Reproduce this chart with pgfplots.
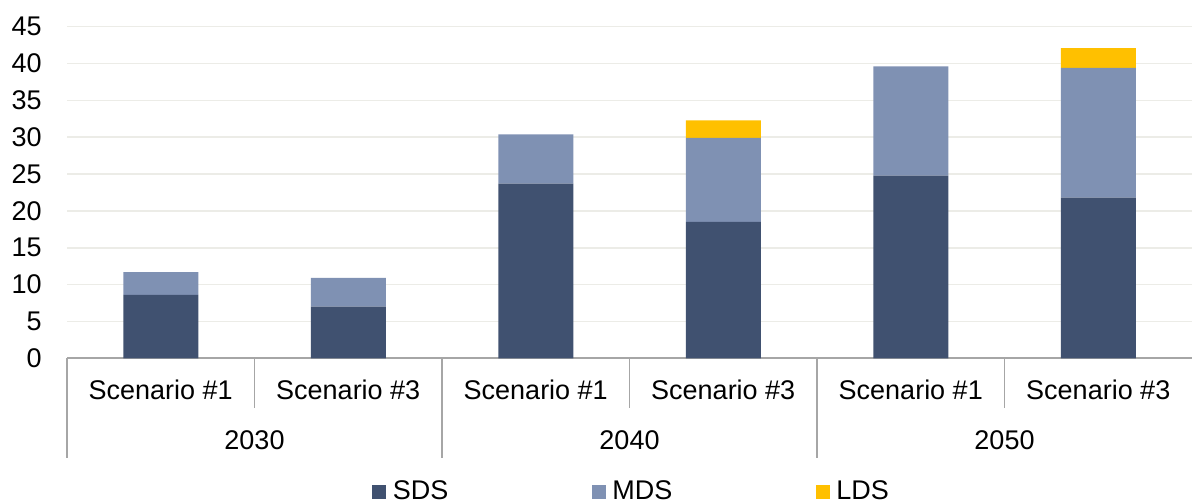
\documentclass[border=0pt]{standalone}
\usepackage{fontspec}
\setmainfont{Liberation Sans}
\usepackage{pgfplots}
\pgfplotsset{compat=1.18}
\definecolor{sds}{RGB}{64,81,112}
\definecolor{mds}{RGB}{127,145,179}
\definecolor{lds}{RGB}{255,192,0}
\definecolor{gridc}{RGB}{236,236,231}
\definecolor{axc}{RGB}{166,166,166}
\pgfplotsset{sqlegend/.style={legend image code/.code={\fill[##1,draw=none] (0pt,-3.5pt) rectangle (7pt,3.5pt); \path (8.25pt,0pt);}}}
\begin{document}
\fontsize{13.5pt}{16pt}\selectfont
\begin{tikzpicture}
\useasboundingbox (0,0) rectangle (596pt,251pt);
\begin{axis}[
  at={(33.5pt,71.85pt)}, anchor=south west,
  width=562.5pt, height=165.8pt, scale only axis,
  ybar stacked, bar width=0.4,
  xmin=-0.5, xmax=5.5, ymin=0, ymax=45,
  xtick={0,1,2,3,4,5},
  xticklabels={Scenario \#1, Scenario \#3, Scenario \#1, Scenario \#3, Scenario \#1, Scenario \#3},
  ytick={0,5,...,45},
  ymajorgrids, grid style={gridc, line width=0.8pt},
  axis line style={draw=none},
  major tick length=0pt,
  tick style={draw=none},
  xticklabel style={anchor=center, yshift=-16pt},
  yticklabel style={anchor=east, inner sep=0pt, xshift=-12.5pt},
  /pgf/number format/assume math mode=true,
  ticklabel style={font=\fontsize{13.5pt}{16pt}\selectfont},
  clip=false,
  legend columns=3,
  legend style={at={(0.5027,-0.402)}, anchor=center, draw=none, fill=none,
    font=\fontsize{13.5pt}{16pt}\selectfont,
    /tikz/every even column/.append style={column sep=69.75pt}},
]
\addplot[fill=sds, draw=none, sqlegend] coordinates {(0,8.6) (1,7.0) (2,23.7) (3,18.5) (4,24.8) (5,21.8)};
\addplot[fill=mds, draw=none, sqlegend] coordinates {(0,3.1) (1,3.9) (2,6.7) (3,11.4) (4,14.8) (5,17.6)};
\addplot[fill=lds, draw=none, sqlegend] coordinates {(0,0) (1,0) (2,0) (3,2.4) (4,0) (5,2.7)};
\legend{SDS, MDS, LDS}
\draw[axc, line width=0.8pt] (axis cs:-0.5,0) -- (axis cs:5.5,0);
\draw[axc, line width=0.8pt] (axis cs:-0.5,0) -- ([yshift=-50pt]axis cs:-0.5,0);
\draw[axc, line width=0.8pt] (axis cs:1.5,0) -- ([yshift=-50pt]axis cs:1.5,0);
\draw[axc, line width=0.8pt] (axis cs:3.5,0) -- ([yshift=-50pt]axis cs:3.5,0);
\draw[axc, line width=0.8pt] (axis cs:0.5,0) -- ([yshift=-25pt]axis cs:0.5,0);
\draw[axc, line width=0.8pt] (axis cs:2.5,0) -- ([yshift=-25pt]axis cs:2.5,0);
\draw[axc, line width=0.8pt] (axis cs:4.5,0) -- ([yshift=-25pt]axis cs:4.5,0);
\node at (axis cs:0.5,0) [yshift=-41pt] {2030};
\node at (axis cs:2.5,0) [yshift=-41pt] {2040};
\node at (axis cs:4.5,0) [yshift=-41pt] {2050};
\end{axis}
\end{tikzpicture}
\end{document}
